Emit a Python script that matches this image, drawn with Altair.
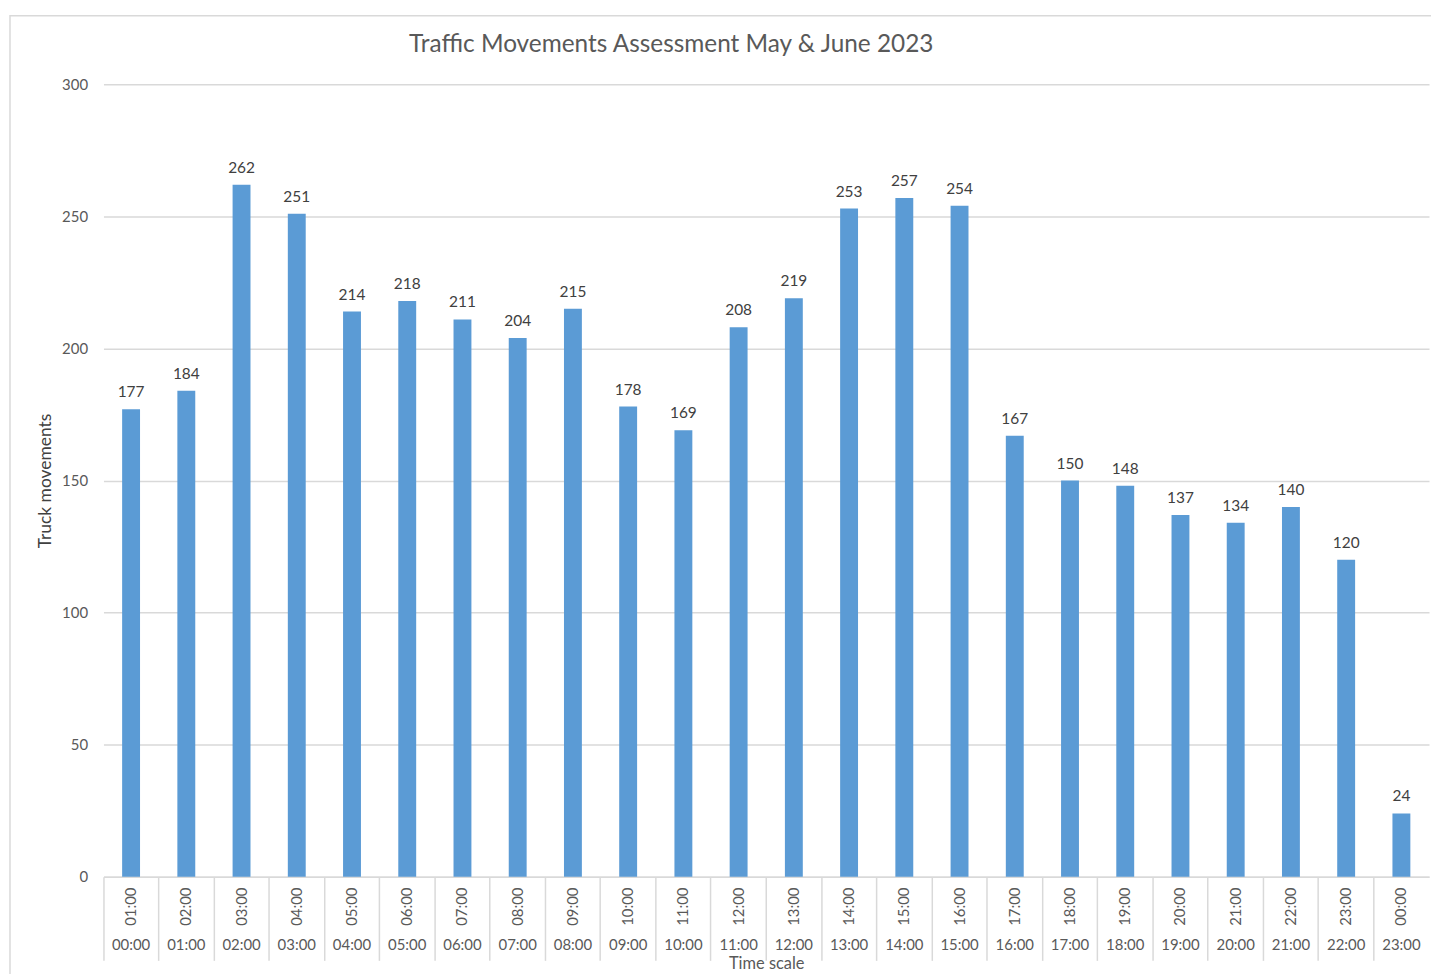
import altair as alt
import pandas as pd

starts = ["00:00", "01:00", "02:00", "03:00", "04:00", "05:00", "06:00", "07:00",
          "08:00", "09:00", "10:00", "11:00", "12:00", "13:00", "14:00", "15:00",
          "16:00", "17:00", "18:00", "19:00", "20:00", "21:00", "22:00", "23:00"]
ends = ["01:00", "02:00", "03:00", "04:00", "05:00", "06:00", "07:00", "08:00",
        "09:00", "10:00", "11:00", "12:00", "13:00", "14:00", "15:00", "16:00",
        "17:00", "18:00", "19:00", "20:00", "21:00", "22:00", "23:00", "00:00"]
values = [177, 184, 262, 251, 214, 218, 211, 204, 215, 178, 169, 208,
          219, 253, 257, 254, 167, 150, 148, 137, 134, 140, 120, 24]
y_ticks = [0, 50, 100, 150, 200, 250, 300]
title_text = "Traffic Movements Assessment  May & June 2023"

df = pd.DataFrame({"start": starts, "end": ends, "value": values})

W = 1333
H = 797
FONT = "Lato"
GRAY = "#595959"
LINE = "#d9d9d9"

x_enc = alt.X(
    "start:N", sort=starts,
    scale=alt.Scale(paddingInner=0, paddingOuter=0),
    axis=alt.Axis(
        title="Time scale", titleFontSize=16.5, titleColor=GRAY, titleFontWeight="normal",
        titleX=W / 2, titleY=87, titleBaseline="middle",
        labelAngle=0, labelFontSize=15, labelColor=GRAY, labelPadding=-23,
        bandPosition=0, tickSize=84, tickColor=LINE, tickWidth=1.5,
        domainColor=LINE, domainWidth=1.5,
    ),
)
y_enc = alt.Y(
    "value:Q",
    scale=alt.Scale(domain=[0, 300]),
    axis=alt.Axis(
        values=y_ticks, grid=True, gridColor=LINE, gridWidth=1.5,
        domain=False, ticks=False, labelFontSize=15, labelColor=GRAY, labelPadding=16,
        title="Truck movements", titleFontSize=17.5, titleColor="#404040",
        titleFontWeight="normal", titleX=-58, titleY=H / 2, titleAngle=270,
        titleBaseline="middle", titleAlign="center",
    ),
)

bars = alt.Chart(df).mark_bar(size=18, color="#5B9BD5").encode(x=x_enc, y=y_enc)

bar_labels = alt.Chart(df).mark_text(
    baseline="bottom", dy=-9, fontSize=15.5, color="#404040", font=FONT
).encode(x=alt.X("start:N", sort=starts), y="value:Q", text="value:Q")

top_labels = alt.Chart(df).mark_text(
    angle=270, fontSize=15, color=GRAY, font=FONT, baseline="middle", align="center"
).encode(x=alt.X("start:N", sort=starts), y=alt.value(H + 30), text="end:N")

one = pd.DataFrame({"t": [title_text]})

frame = alt.Chart(one).mark_rect(
    fill=None, stroke=LINE, strokeWidth=1.5, clip=False
).encode(x=alt.value(-94), x2=alt.value(W + 60), y=alt.value(-69), y2=alt.value(H + 200))

title = alt.Chart(one).mark_text(
    fontSize=24.5, color=GRAY, font=FONT, align="center", baseline="middle"
).encode(x=alt.value(571), y=alt.value(-39), text="t:N")

chart = alt.layer(frame, bars, bar_labels, top_labels, title).properties(
    width=W, height=H,
    autosize=alt.AutoSizeParams(type="none"),
    padding={"left": 96, "top": 74, "right": 2, "bottom": 95},
).configure(font=FONT).configure_view(stroke=None)

chart.save("out.html", embed_options={"renderer": "svg", "actions": False})
